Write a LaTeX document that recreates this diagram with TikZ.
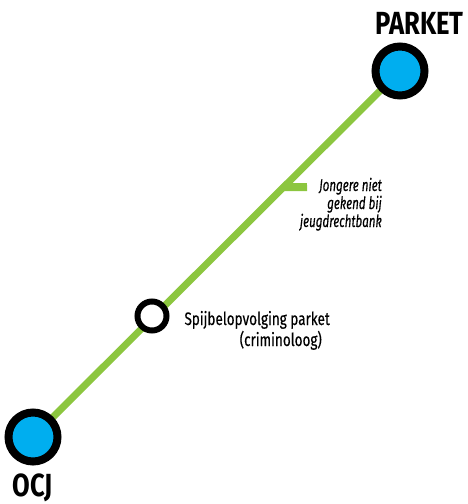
\documentclass[tikz,border=0pt]{standalone}
\usepackage{fontspec}
\setmainfont{Fira Sans}
\newfontfamily\condbold[FakeStretch=0.8]{Fira Sans Bold}
\newfontfamily\cond[FakeStretch=0.75,FakeBold=0.4]{Fira Sans}
\newfontfamily\conditalic[FakeStretch=0.68,FakeBold=0.4]{Fira Sans Italic}
\usetikzlibrary{backgrounds,calc}
\definecolor{lijngroen}{HTML}{8CC63F}
\definecolor{stationblauw}{HTML}{00AEEF}
\tikzset{
  bigstation/.style={circle, draw=black, line width=8pt, fill=stationblauw, minimum size=49pt, inner sep=0pt},
  smallstation/.style={circle, draw=black, line width=6pt, fill=white, minimum size=29pt, inner sep=0pt},
  metroline/.style={draw=lijngroen, line width=7pt},
  ticklines/.style={draw=lijngroen, line width=8pt},
  endlabel/.style={font=\condbold\fontsize{32}{34}\selectfont, inner sep=0pt},
  stoplabel/.style={font=\cond\fontsize{18}{21}\selectfont, inner sep=0pt, align=right},
  notelabel/.style={font=\conditalic\fontsize{17}{18}\selectfont, inner sep=0pt, align=right}
}
\begin{document}
\begin{tikzpicture}[x=1pt, y=-1pt]
\useasboundingbox (0,0) rectangle (468,504);
\node[bigstation] (parket) at (400,71) {};
\node[bigstation] (ocj) at (33,437) {};
\node[smallstation] (spijbel) at (152,316) {};
\begin{scope}[on background layer]
  \draw[metroline] (ocj.center) -- (parket.center);
  \coordinate (tickstart) at ($(ocj.center)!0.683!(parket.center)$);
  \coordinate (tickend) at (307,187);
  \draw[ticklines] (tickstart) -- (tickend);
\end{scope}
\node[endlabel, anchor=base] (parketlabel) at (419.5,34) {PARKET};
\node[endlabel, anchor=base] (ocjlabel) at (32.5,496) {OCJ};
\node[stoplabel, anchor=base east] (spijbellabel) at (330,346) {Spijbelopvolging parket\\(criminoloog)\hspace*{8pt}};
\node[notelabel, anchor=base east] (notelabel) at (382,227) {Jongere niet\\gekend bij\\jeugdrechtbank};
\end{tikzpicture}
\end{document}
